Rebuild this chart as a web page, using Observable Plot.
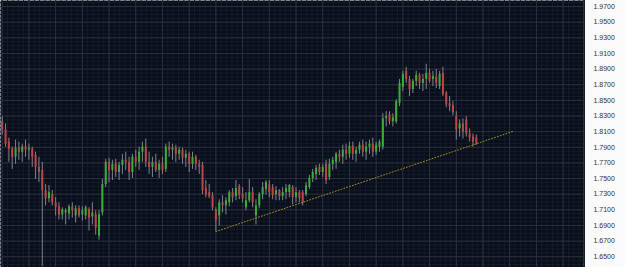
<!DOCTYPE html>
<html>
<head>
<meta charset="utf-8">
<script src="https://cdn.jsdelivr.net/npm/d3@7"></script>
<script src="https://cdn.jsdelivr.net/npm/@observablehq/plot@0.6"></script>
<style>
  html, body { margin: 0; padding: 0; background: #fafafa; }
  #chart svg { display: block; }
</style>
</head>
<body>
<div id="chart"></div>
<script>
// OHLC values (one candle per bar index)
const open = [1.8225,1.8122,1.7966,1.7876,1.7772,1.7889,1.7837,1.7902,1.7863,1.7876,1.7798,1.7643,1.7604,1.7346,1.7242,1.7294,1.7190,1.7138,1.7035,1.7061,
1.7048,1.7138,1.7022,1.7113,1.7035,1.7022,1.7100,1.7009,1.7035,1.6763,1.7061,1.7423,1.7708,1.7604,1.7682,1.7578,1.7669,1.7734,1.7708,1.7578,
1.7772,1.7708,1.7837,1.7902,1.7708,1.7643,1.7708,1.7604,1.7682,1.7617,1.7902,1.7863,1.7889,1.7811,1.7863,1.7759,1.7811,1.7682,1.7772,1.7682,
1.7669,1.7372,1.7320,1.7281,1.7100,1.7022,1.7190,1.7151,1.7190,1.7320,1.7268,1.7397,1.7294,1.7126,1.7216,1.7320,1.7022,1.7151,1.7294,1.7359,
1.7423,1.7384,1.7294,1.7346,1.7268,1.7320,1.7320,1.7384,1.7255,1.7320,1.7320,1.7294,1.7384,1.7501,1.7553,1.7643,1.7578,1.7682,1.7514,1.7682,
1.7708,1.7811,1.7772,1.7863,1.7811,1.7915,1.7811,1.7863,1.7927,1.7837,1.7902,1.7940,1.7837,1.7902,1.7902,1.8264,1.8316,1.8225,1.8225,1.8458,
1.8665,1.8872,1.8768,1.8639,1.8743,1.8820,1.8717,1.8768,1.8846,1.8768,1.8794,1.8678,1.8846,1.8587,1.8458,1.8432,1.8290,1.8135,1.8199,1.8251,
1.8070,1.8031,1.8018];
const high = [1.8290,1.8199,1.8018,1.7902,1.7992,1.7966,1.7940,1.7992,1.7940,1.7902,1.7837,1.7772,1.7708,1.7423,1.7410,1.7346,1.7255,1.7190,1.7126,1.7113,
1.7164,1.7190,1.7151,1.7151,1.7138,1.7151,1.7126,1.7190,1.7087,1.7087,1.7488,1.7746,1.7759,1.7734,1.7746,1.7708,1.7811,1.7837,1.7772,1.7811,
1.7863,1.7902,1.7966,1.8005,1.7837,1.7772,1.7811,1.7734,1.7772,1.7940,1.7966,1.7940,1.7927,1.7902,1.7889,1.7863,1.7837,1.7837,1.7798,1.7734,
1.7708,1.7475,1.7423,1.7320,1.7126,1.7229,1.7281,1.7255,1.7346,1.7372,1.7475,1.7423,1.7384,1.7320,1.7488,1.7384,1.7229,1.7320,1.7449,1.7475,
1.7475,1.7423,1.7397,1.7359,1.7384,1.7423,1.7423,1.7410,1.7384,1.7346,1.7346,1.7449,1.7540,1.7617,1.7669,1.7682,1.7682,1.7734,1.7746,1.7772,
1.7837,1.7863,1.7927,1.7940,1.7966,1.7966,1.7902,1.7966,1.7992,1.7966,1.7992,1.8018,1.7966,1.7992,1.8329,1.8355,1.8355,1.8329,1.8510,1.8768,
1.8872,1.8924,1.8807,1.8768,1.8872,1.8846,1.8833,1.8963,1.8898,1.8872,1.8898,1.8872,1.8924,1.8613,1.8549,1.8484,1.8355,1.8251,1.8264,1.8290,
1.8135,1.8070,1.8057];
const low = [1.8057,1.7902,1.7708,1.7617,1.7682,1.7734,1.7708,1.7772,1.7734,1.7643,1.7488,1.7449,1.6370,1.7151,1.7190,1.7151,1.7022,1.6970,1.6970,1.6906,
1.6970,1.6996,1.6932,1.6996,1.6957,1.6970,1.6828,1.6906,1.6776,1.6712,1.7022,1.7384,1.7449,1.7475,1.7514,1.7475,1.7553,1.7604,1.7475,1.7501,
1.7643,1.7604,1.7708,1.7643,1.7553,1.7514,1.7578,1.7501,1.7553,1.7578,1.7772,1.7734,1.7708,1.7734,1.7682,1.7643,1.7578,1.7617,1.7604,1.7553,
1.7294,1.7255,1.7242,1.7087,1.6822,1.6893,1.7061,1.7035,1.7138,1.7190,1.7216,1.7229,1.7190,1.7087,1.7190,1.7126,1.6906,1.7113,1.7229,1.7294,
1.7255,1.7229,1.7216,1.7216,1.7216,1.7229,1.7255,1.7164,1.7190,1.7190,1.7151,1.7268,1.7359,1.7449,1.7475,1.7540,1.7514,1.7423,1.7475,1.7604,
1.7617,1.7708,1.7682,1.7734,1.7759,1.7734,1.7708,1.7811,1.7772,1.7734,1.7811,1.7772,1.7798,1.7837,1.7863,1.8161,1.8186,1.8161,1.8199,1.8419,
1.8613,1.8717,1.8549,1.8587,1.8678,1.8639,1.8613,1.8639,1.8717,1.8678,1.8652,1.8639,1.8549,1.8406,1.8355,1.8303,1.7992,1.8031,1.8005,1.8031,
1.7966,1.7902,1.7927];
const close = [1.8122,1.7940,1.7876,1.7772,1.7889,1.7837,1.7902,1.7863,1.7889,1.7772,1.7643,1.7578,1.7346,1.7242,1.7320,1.7190,1.7126,1.7035,1.7100,1.7087,
1.7138,1.7087,1.7113,1.7022,1.7087,1.7126,1.6996,1.7061,1.6867,1.7035,1.7423,1.7708,1.7604,1.7682,1.7578,1.7669,1.7734,1.7708,1.7578,1.7772,
1.7708,1.7837,1.7902,1.7708,1.7643,1.7708,1.7604,1.7682,1.7604,1.7902,1.7863,1.7889,1.7811,1.7863,1.7759,1.7811,1.7682,1.7772,1.7682,1.7643,
1.7346,1.7294,1.7268,1.7126,1.6957,1.7190,1.7151,1.7216,1.7320,1.7255,1.7372,1.7281,1.7242,1.7216,1.7320,1.7190,1.7151,1.7294,1.7384,1.7449,
1.7320,1.7281,1.7346,1.7268,1.7320,1.7372,1.7410,1.7255,1.7320,1.7242,1.7190,1.7410,1.7501,1.7578,1.7630,1.7578,1.7643,1.7475,1.7682,1.7734,
1.7811,1.7772,1.7863,1.7811,1.7915,1.7811,1.7863,1.7927,1.7837,1.7902,1.7940,1.7837,1.7927,1.7966,1.8264,1.8290,1.8225,1.8277,1.8484,1.8717,
1.8833,1.8768,1.8639,1.8743,1.8820,1.8717,1.8768,1.8846,1.8743,1.8807,1.8717,1.8833,1.8574,1.8445,1.8419,1.8342,1.8122,1.8199,1.8096,1.8070,
1.8018,1.7966,1.7953];

// Support trend line (bar index, price)
const trendIndex = [64, 153.4];
const trendPrice = [1.6822, 1.8109];

// Price axis tick labels
const yTicks = [1.65,1.67,1.69,1.71,1.73,1.75,1.77,1.79,1.81,1.83,1.85,1.87,1.89,1.91,1.93,1.95,1.97];

const candles = open.map((o, i) => ({i, o, h: high[i], l: low[i], c: close[i]}));
const trend = trendIndex.map((x, k) => ({x, y: trendPrice[k]}));

const majorX = d3.range(0, 175, 8);
const minorX = d3.range(0, 175, 1.6);
const minorY = d3.range(1.635, 1.98, 0.005);

const GREEN = "#38b038", RED = "#c04448", WICK = "#7e838c";

const chart = Plot.plot({
  width: 625,
  height: 267,
  marginLeft: 0,
  marginRight: 42,
  marginTop: 0,
  marginBottom: 0,
  style: {background: "#fafafa", fontFamily: "'Liberation Sans', Arial, sans-serif", fontSize: "7px"},
  x: {domain: [-0.51, 174.1], axis: null},
  y: {domain: [1.63623, 1.97776], axis: null},
  marks: [
    Plot.frame({fill: "#0a0e17", stroke: null}),
    Plot.ruleY(minorY, {stroke: "#141b2e"}),
    Plot.ruleX(minorX, {stroke: "#141b2e"}),
    Plot.ruleY(yTicks, {stroke: "#2a303e"}),
    Plot.ruleX(majorX, {stroke: "#2a303e"}),
    Plot.ruleX(candles, {x: "i", y1: "l", y2: "h", stroke: WICK, strokeWidth: 1}),
    Plot.ruleX(candles, {x: "i", y1: "o", y2: "c", stroke: d => d.c >= d.o ? GREEN : RED, strokeWidth: 2}),
    Plot.line(trend, {x: "x", y: "y", stroke: "#9c8e24", strokeWidth: 1, strokeDasharray: "1,2"}),
    Plot.ruleX([174.1], {stroke: "#2a2e36"}),
    Plot.axisY(yTicks, {anchor: "right", tickSize: 0, tickPadding: 10, tickFormat: d3.format(".4f"), fill: "#333", fontSize: 7, label: null})
  ]
});
document.getElementById("chart").append(chart);
</script>
</body>
</html>
